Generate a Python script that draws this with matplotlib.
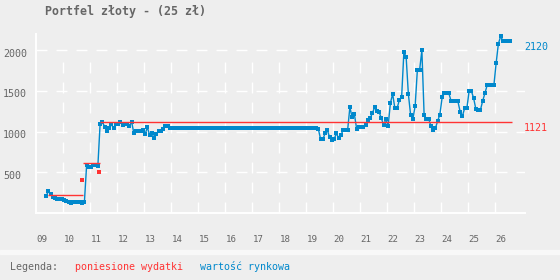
import numpy as np
import matplotlib.pyplot as plt
from matplotlib.patches import Rectangle

plt.rcParams['font.family'] = 'DejaVu Sans Mono'
plt.rcParams['lines.scale_dashes'] = False

# market value, one point a month, first one mid-May 2009
first_month = 2009 + 4.5 / 12
market_value = (
    [210, 265, 235, 195, 180, 170, 170, 170, 155, 145, 130, 120, 130, 130, 130, 130, 120, 130]
    + [590, 560, 560, 590, 590, 580]
    + [1100, 1120, 1060, 1005, 1040, 1090, 1040, 1090, 1100, 1120, 1080, 1100, 1090, 1065, 1120]
    + [980, 1005, 1005, 1005, 1017, 968, 1054, 956, 980, 920, 968, 1005, 1005, 1030, 1066, 1066]
    + [1040] * 66
    + [1030, 906, 906, 980, 1017, 930, 895, 906, 980, 920, 955, 1020, 1020, 1020, 1300]
    + [1177, 1214, 1037, 1054, 1054, 1054, 1079, 1144, 1165, 1226, 1300, 1251, 1239, 1165,
       1079, 1153, 1070, 1349, 1464, 1288, 1288, 1390, 1423, 1976]
    + [1920, 1460, 1205, 1160, 1310, 1760, 1760, 2000]
    + [1205, 1155, 1160, 1070, 1025, 1040, 1130, 1210, 1420]
    + [1472, 1472, 1472, 1374, 1374, 1374, 1374, 1246, 1189, 1288, 1288, 1500, 1500, 1411,
       1276, 1263, 1263, 1375, 1470, 1570, 1570, 1570, 1570]
    + [1840, 2080, 2170, 2120, 2120, 2120, 2120]
)

# poniesione wydatki (steps) and two single points
cost_from = [2009.46, 2010.75, 2011.37]
cost_to = [2010.75, 2011.37, 2026.62]
cost_value = [218, 611, 1121]
cost_dot_x = [2010.72, 2011.34]
cost_dot_y = [400, 500]

year_ticks = list(range(2009, 2027))
year_labels = ['%02d' % (y % 100) for y in year_ticks]
value_ticks = [500, 1000, 1500, 2000]

bg = '#eeeeee'
blue = '#0088cc'
red = '#ff3333'
grey = '#666666'

months = first_month + np.arange(len(market_value)) / 12

fig = plt.figure(figsize=(5.6, 2.8), dpi=100, facecolor=bg)
ax = fig.add_axes([36 / 560, 1 - 213 / 280, 489 / 560, 179 / 280])
ax.set_facecolor('none')
ax.set_xlim(2009, 2009 + 489 / 27)
ax.set_ylim(0, 2200)
for s in ax.spines.values():
    s.set_visible(False)
ax.set_xticks([])
ax.set_yticks([])

# grid
dash = (0, (7.9, 6.5))
ax.hlines(value_ticks, 2009, 2009 + 489 / 27, colors='white', lw=1, linestyles=[dash])
ax.vlines(year_ticks[1:], 0, 1850, colors='white', lw=1, linestyles=[dash])
ax.axhline(0, color='white', lw=1.4, clip_on=False)
ax.axvline(2009, color='white', lw=1.4, clip_on=False)

# series
ax.plot(months, market_value, color=blue, lw=1.0, marker='s', ms=2.5, mew=0, zorder=3)
ax.hlines(cost_value, cost_from, cost_to, colors=red, lw=1, zorder=4)
ax.plot(cost_dot_x, cost_dot_y, 's', color=red, ms=2.5, mew=0, zorder=4)

# labels
for v in value_ticks:
    ax.annotate(str(v), xy=(0, v), xycoords=('axes fraction', 'data'),
                xytext=(-33, -3.5), textcoords='offset pixels',
                ha='left', va='center', fontsize=7.2, color=grey)
for yr, lbl in zip(year_ticks, year_labels):
    ax.annotate(lbl, xy=(yr, 0), xycoords=('data', 'axes fraction'),
                xytext=(0.7, -26), textcoords='offset pixels',
                ha='left', va='center', fontsize=6.6, color=grey)

ax.annotate(str(market_value[-1]), xy=(1, market_value[-1]), xycoords=('axes fraction', 'data'),
            xytext=(-1, -6.5), textcoords='offset pixels',
            ha='left', va='center', fontsize=7.2, color=blue)
ax.annotate(str(cost_value[-1]), xy=(1, cost_value[-1]), xycoords=('axes fraction', 'data'),
            xytext=(-1, -6.5), textcoords='offset pixels',
            ha='left', va='center', fontsize=7.2, color=red)

fig.text(45 / 560, 1 - 12 / 280, 'Portfel złoty - (25 zł)', fontsize=8.4,
         weight='bold', color=grey, va='center')

# legend strip
fig.patches.append(Rectangle((0, 1 - 253.5 / 280), 1, 4 / 280,
                             transform=fig.transFigure, color='#f8f8f8'))
fig.text(10 / 560, 1 - 267 / 280, 'Legenda:', fontsize=7.2, color=grey, va='center')
fig.text(75 / 560, 1 - 267 / 280, 'poniesione wydatki', fontsize=7.2, color=red, va='center')
fig.text(200 / 560, 1 - 267 / 280, 'wartość rynkowa', fontsize=7.2, color=blue, va='center')

fig.savefig('out.png', dpi=100, facecolor=bg)
